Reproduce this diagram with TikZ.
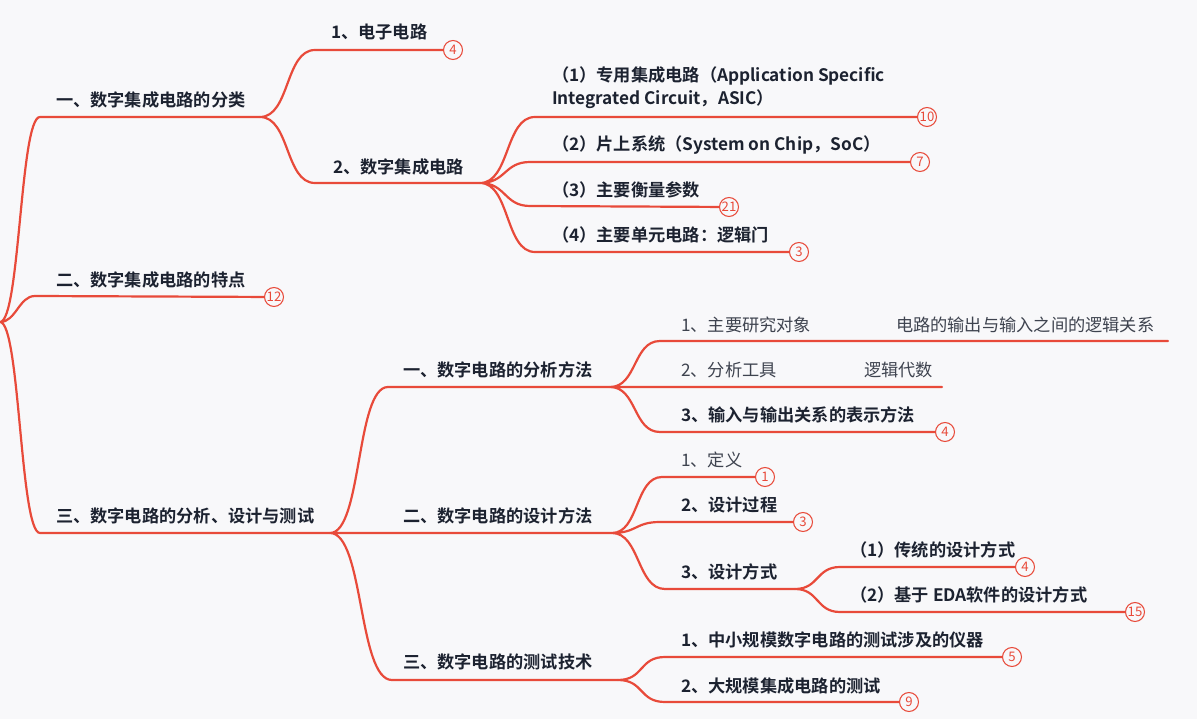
\documentclass[tikz,border=0pt]{standalone}
\usepackage{fontspec}
\setmainfont{Noto Sans CJK SC}[BoldFont={Noto Sans CJK SC Bold}]
\usepackage{tikz}
\usetikzlibrary{calc,positioning}
\definecolor{branchred}{RGB}{232,74,58}
\definecolor{ink}{RGB}{28,34,48}
\definecolor{paper}{RGB}{248,248,250}

\begin{document}
\begin{tikzpicture}[x=0.02cm,y=-0.02cm,line width=1.25pt,line cap=round,
  topic/.style={anchor=west,inner sep=0pt,font=\fontsize{9.8}{13}\selectfont\bfseries,text=ink},
  plain/.style={anchor=west,inner sep=0pt,font=\fontsize{9.8}{13}\selectfont,text=ink!85},
  count/.style={circle,draw=branchred,fill=paper,line width=0.6pt,inner sep=0pt,
                minimum size=10.8pt,text=branchred,font=\fontsize{7.5}{7.5}\selectfont},
  twig/.style={to path={.. controls ($(\tikztostart)+(#1,0)$) and ($(\tikztotarget)-(#1,0)$) .. (\tikztotarget)}},
  twig/.default=25]

\fill[paper] (0,0) rectangle (1197,719);
\useasboundingbox (0,0) rectangle (1197,719);

\coordinate (R) at (0,322);

\node[topic] (A1) at (55,100) {一、数字集成电路的分类};
\node[topic] (A2) at (55,280) {二、数字集成电路的特点};
\node[topic] (A3) at (55,516) {三、数字电路的分析、设计与测试};
\coordinate (A1s) at (40,117);  \coordinate (A1e) at (260,117);
\coordinate (A2s) at (35,296);  \node[count] (N2) at (274,297) {12};
\coordinate (A3s) at (40,533);  \coordinate (A3e) at (330,533);

\node[topic] (B1) at (330,32)  {1、电子电路};
\node[topic] (B2) at (332,167) {2、数字集成电路};
\coordinate (B1s) at (315,50);  \node[count] (NB1) at (453,50) {4};
\coordinate (B2s) at (315,183); \coordinate (B2e) at (480,183);

\node[topic,align=left] (C1) at (551,88) {（1）专用集成电路（Application Specific\\Integrated Circuit，ASIC）};
\node[topic] (C2) at (551,145) {（2）片上系统（System on Chip，SoC）};
\node[topic] (C3) at (551,190) {（3）主要衡量参数};
\node[topic] (C4) at (551,235) {（4）主要单元电路：逻辑门};
\coordinate (C1s) at (535,117); \node[count] (NC1) at (927,117) {10};
\coordinate (C2s) at (530,162); \node[count] (NC2) at (920,162) {7};
\coordinate (C3s) at (530,206); \node[count] (NC3) at (729,207) {21};
\coordinate (C4s) at (535,252); \node[count] (NC4) at (799,252) {3};

\node[topic] (D1) at (402,370) {一、数字电路的分析方法};
\node[topic] (D2) at (402,516) {二、数字电路的设计方法};
\node[topic] (D3) at (402,662) {三、数字电路的测试技术};
\coordinate (D1s) at (388,387); \coordinate (D1e) at (610,387);
\coordinate (D2e) at (612,533);
\coordinate (D3s) at (392,680); \coordinate (D3e) at (618,680);

\node[plain] (E1) at (680,325) {1、主要研究对象};
\node[plain] (E1n) at (895,325) {电路的输出与输入之间的逻辑关系};
\node[plain] (E2) at (680,370) {2、分析工具};
\node[plain] (E2n) at (863,370) {逻辑代数};
\node[topic] (E3) at (680,415) {3、输入与输出关系的表示方法};
\coordinate (E1s) at (660,341); \coordinate (E1e) at (1168,341);
\coordinate (E2e) at (942,387);
\coordinate (E3s) at (660,432); \node[count] (NE3) at (945,432) {4};

\node[plain] (F1) at (680,460) {1、定义};
\node[topic] (F2) at (680,505) {2、设计过程};
\node[topic] (F3) at (680,572) {3、设计方式};
\coordinate (F1s) at (662,477); \node[count] (NF1) at (765,477) {1};
\coordinate (F2s) at (660,522); \node[count] (NF2) at (803,522) {3};
\coordinate (F3s) at (665,589); \coordinate (F3e) at (795,589);

\node[topic] (G1) at (849,550) {（1）传统的设计方式};
\node[topic] (G2) at (849,595) {（2）基于 EDA软件的设计方式};
\coordinate (G1s) at (840,567); \node[count] (NG1) at (1025,567) {4};
\coordinate (G2s) at (840,612); \node[count] (NG2) at (1135,612) {15};

\node[topic] (H1) at (680,640) {1、中小规模数字电路的测试涉及的仪器};
\node[topic] (H2) at (680,686) {2、大规模集成电路的测试};
\coordinate (H1s) at (665,657); \node[count] (NH1) at (1012,657) {5};
\coordinate (H2s) at (665,702); \node[count] (NH2) at (909,702) {9};

\draw[branchred] (R) to[twig=20] (A1s) -- (A1e)
                 (R) to[twig=16] (A2s) -- (N2)
                 (R) to[twig=20] (A3s) -- (A3e);

\draw[branchred] (A1e) to[twig=30] (B1s) -- (NB1)
                 (A1e) to[twig=30] (B2s) -- (B2e);

\draw[branchred] (B2e) to[twig=30] (C1s) -- (NC1)
                 (B2e) to[twig=26] (C2s) -- (NC2)
                 (B2e) to[twig=26] (C3s) -- (NC3)
                 (B2e) to[twig=30] (C4s) -- (NC4);

\draw[branchred] (A3e) to[twig=32] (D1s) -- (D1e)
                 (A3e) -- (D2e)
                 (A3e) to[twig=34] (D3s) -- (D3e);

\draw[branchred] (D1e) to[twig=27] (E1s) -- (E1e)
                 (D1e) -- (E2e)
                 (D1e) to[twig=27] (E3s) -- (NE3);

\draw[branchred] (D2e) to[twig=27] (F1s) -- (NF1)
                 (D2e) to[twig=25] (F2s) -- (NF2)
                 (D2e) to[twig=28] (F3s) -- (F3e);

\draw[branchred] (F3e) to[twig=24] (G1s) -- (NG1)
                 (F3e) to[twig=24] (G2s) -- (NG2);

\draw[branchred] (D3e) to[twig=26] (H1s) -- (NH1)
                 (D3e) to[twig=26] (H2s) -- (NH2);

\end{tikzpicture}
\end{document}
